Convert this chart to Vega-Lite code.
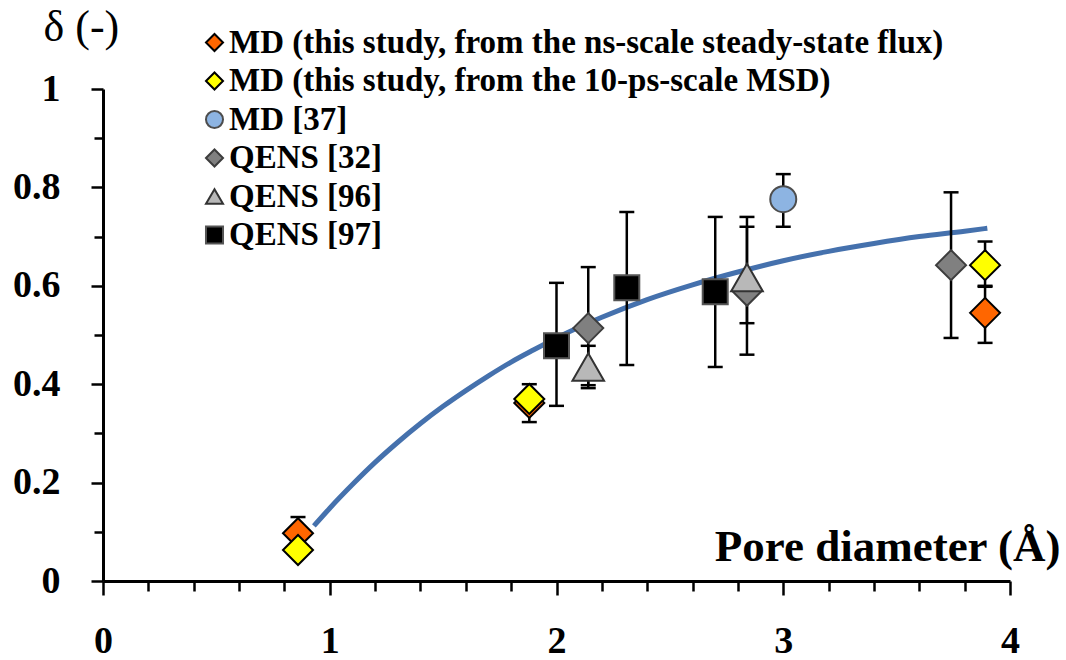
{
  "$schema": "https://vega.github.io/schema/vega-lite/v6.json",
  "autosize": "none",
  "width": 907,
  "height": 492,
  "padding": {"left": 103, "top": 89, "right": 56, "bottom": 79},
  "background": "white",
  "config": {"view": {"stroke": null}},
  "datasets": {
    "curve": [
      {"x": 0.93, "y": 0.112}, {"x": 1.0, "y": 0.148}, {"x": 1.1, "y": 0.196}, {"x": 1.2, "y": 0.241},
      {"x": 1.3, "y": 0.282}, {"x": 1.4, "y": 0.32}, {"x": 1.5, "y": 0.355}, {"x": 1.6, "y": 0.387},
      {"x": 1.7, "y": 0.417}, {"x": 1.8, "y": 0.445}, {"x": 1.9, "y": 0.47}, {"x": 2.0, "y": 0.494},
      {"x": 2.2, "y": 0.536}, {"x": 2.4, "y": 0.572}, {"x": 2.6, "y": 0.602}, {"x": 2.8, "y": 0.628},
      {"x": 3.0, "y": 0.651}, {"x": 3.2, "y": 0.67}, {"x": 3.4, "y": 0.686}, {"x": 3.6, "y": 0.7},
      {"x": 3.8, "y": 0.711}, {"x": 3.9, "y": 0.717}
    ],
    "err": [
      {"x": 0.86, "lo": 0.07, "hi": 0.13},
      {"x": 3.89, "lo": 0.484, "hi": 0.598},
      {"x": 1.88, "lo": 0.323, "hi": 0.4},
      {"x": 3.89, "lo": 0.6, "hi": 0.69},
      {"x": 3.0, "lo": 0.72, "hi": 0.827},
      {"x": 2.14, "lo": 0.398, "hi": 0.638},
      {"x": 2.84, "lo": 0.46, "hi": 0.74},
      {"x": 3.74, "lo": 0.494, "hi": 0.79},
      {"x": 2.14, "lo": 0.392, "hi": 0.478},
      {"x": 2.84, "lo": 0.524, "hi": 0.72},
      {"x": 2.0, "lo": 0.356, "hi": 0.606},
      {"x": 2.31, "lo": 0.439, "hi": 0.75},
      {"x": 2.7, "lo": 0.435, "hi": 0.74}
    ],
    "pts": [
      {"s": "MD (this study, from the ns-scale steady-state flux)", "x": 0.86, "y": 0.097},
      {"s": "MD (this study, from the ns-scale steady-state flux)", "x": 1.88, "y": 0.362},
      {"s": "MD (this study, from the ns-scale steady-state flux)", "x": 3.89, "y": 0.545},
      {"s": "MD (this study, from the 10-ps-scale MSD)", "x": 0.86, "y": 0.063},
      {"s": "MD (this study, from the 10-ps-scale MSD)", "x": 1.88, "y": 0.37},
      {"s": "MD (this study, from the 10-ps-scale MSD)", "x": 3.89, "y": 0.642},
      {"s": "MD [37]", "x": 3.0, "y": 0.776},
      {"s": "QENS [32]", "x": 2.14, "y": 0.514},
      {"s": "QENS [32]", "x": 2.84, "y": 0.59},
      {"s": "QENS [32]", "x": 3.74, "y": 0.642},
      {"s": "QENS [96]", "x": 2.14, "y": 0.435},
      {"s": "QENS [96]", "x": 2.84, "y": 0.617},
      {"s": "QENS [97]", "x": 2.0, "y": 0.478},
      {"s": "QENS [97]", "x": 2.31, "y": 0.596},
      {"s": "QENS [97]", "x": 2.7, "y": 0.588}
    ]
  },
  "layer": [
    {
      "data": {"name": "curve"},
      "mark": {"type": "line", "color": "#4571ad", "strokeWidth": 5, "interpolate": "monotone"},
      "encoding": {
        "x": {
          "field": "x", "type": "quantitative",
          "scale": {"domain": [0, 4], "nice": false, "zero": false},
          "axis": {
            "title": "Pore diameter (Å)",
            "titleFont": "Liberation Serif", "titleFontSize": 45, "titleFontWeight": "bold", "titleColor": "black",
            "titleX": 957, "titleY": -21, "titleAlign": "right", "titleBaseline": "alphabetic", "titleAngle": 0,
            "values": [0, 0.2, 0.4, 0.6, 0.8, 1, 1.2, 1.4, 1.6, 1.8, 2, 2.2, 2.4, 2.6, 2.8, 3, 3.2, 3.4, 3.6, 3.8, 4],
            "labelExpr": "abs(datum.value - round(datum.value)) < 0.01 ? format(datum.value, '~g') : ''",
            "labelFont": "Liberation Serif", "labelFontSize": 38, "labelFontWeight": "bold", "labelColor": "black",
            "labelPadding": 27, "labelFlush": false, "labelOverlap": false,
            "domainColor": "black", "domainWidth": 3,
            "tickColor": "black", "tickWidth": 2.5,
            "tickSize": {"condition": {"test": "abs(datum.value - round(datum.value)) < 0.01", "value": 14}, "value": 10},
            "grid": false
          }
        },
        "y": {
          "field": "y", "type": "quantitative",
          "scale": {"domain": [0, 1], "nice": false, "zero": false},
          "axis": {
            "title": "δ (-)",
            "titleFont": "Liberation Serif", "titleFontSize": 44, "titleFontWeight": "normal", "titleColor": "black",
            "titleX": -60, "titleY": -49, "titleAlign": "left", "titleBaseline": "alphabetic", "titleAngle": 0,
            "values": [0, 0.1, 0.2, 0.3, 0.4, 0.5, 0.6, 0.7, 0.8, 0.9, 1],
            "labelExpr": "round(datum.value * 10) % 2 == 0 ? format(datum.value, '~g') : ''",
            "labelFont": "Liberation Serif", "labelFontSize": 38, "labelFontWeight": "bold", "labelColor": "black",
            "labelPadding": 31, "labelFlush": false, "labelOverlap": false,
            "domainColor": "black", "domainWidth": 3,
            "tickColor": "black", "tickWidth": 2.5,
            "tickSize": {"condition": {"test": "round(datum.value * 10) % 2 == 0", "value": 12}, "value": 9},
            "grid": false
          }
        }
      }
    },
    {
      "data": {"name": "err"},
      "mark": {"type": "rule", "color": "black", "strokeWidth": 2.5},
      "encoding": {
        "x": {"field": "x", "type": "quantitative"},
        "y": {"field": "lo", "type": "quantitative"},
        "y2": {"field": "hi"}
      }
    },
    {
      "data": {"name": "err"},
      "mark": {"type": "tick", "color": "black", "orient": "horizontal", "size": 15, "thickness": 2.5, "opacity": 1},
      "encoding": {
        "x": {"field": "x", "type": "quantitative"},
        "y": {"field": "lo", "type": "quantitative"}
      }
    },
    {
      "data": {"name": "err"},
      "mark": {"type": "tick", "color": "black", "orient": "horizontal", "size": 15, "thickness": 2.5, "opacity": 1},
      "encoding": {
        "x": {"field": "x", "type": "quantitative"},
        "y": {"field": "hi", "type": "quantitative"}
      }
    },
    {
      "data": {"name": "pts"},
      "mark": {"type": "point", "filled": true, "opacity": 1, "strokeWidth": 2, "strokeOpacity": 1},
      "encoding": {
        "x": {"field": "x", "type": "quantitative"},
        "y": {"field": "y", "type": "quantitative"},
        "shape": {
          "field": "s", "type": "nominal",
          "scale": {
            "domain": ["MD (this study, from the ns-scale steady-state flux)", "MD (this study, from the 10-ps-scale MSD)", "MD [37]", "QENS [32]", "QENS [96]", "QENS [97]"],
            "range": ["diamond", "diamond", "circle", "diamond", "triangle-up", "square"]
          },
          "legend": {
            "title": null, "orient": "none", "legendX": 95, "legendY": -63, "padding": 0, "offset": 0,
            "labelFont": "Liberation Serif", "labelFontSize": 33, "labelFontWeight": "bold", "labelColor": "black",
            "labelLimit": 0, "labelOffset": -2, "rowPadding": 4.5, "symbolSize": 290, "symbolStrokeWidth": 2
          }
        },
        "fill": {
          "field": "s", "type": "nominal",
          "scale": {
            "domain": ["MD (this study, from the ns-scale steady-state flux)", "MD (this study, from the 10-ps-scale MSD)", "MD [37]", "QENS [32]", "QENS [96]", "QENS [97]"],
            "range": ["#ff6600", "#ffff00", "#8db4e2", "#808080", "#b8b8b8", "#000000"]
          },
          "legend": {
            "title": null, "orient": "none", "legendX": 95, "legendY": -63, "padding": 0, "offset": 0,
            "labelFont": "Liberation Serif", "labelFontSize": 33, "labelFontWeight": "bold", "labelColor": "black",
            "labelLimit": 0, "labelOffset": -2, "rowPadding": 4.5, "symbolSize": 290, "symbolStrokeWidth": 2
          }
        },
        "stroke": {
          "field": "s", "type": "nominal",
          "scale": {
            "domain": ["MD (this study, from the ns-scale steady-state flux)", "MD (this study, from the 10-ps-scale MSD)", "MD [37]", "QENS [32]", "QENS [96]", "QENS [97]"],
            "range": ["#000000", "#000000", "#4d4d4d", "#3d3d3d", "#333333", "#555555"]
          },
          "legend": {
            "title": null, "orient": "none", "legendX": 95, "legendY": -63, "padding": 0, "offset": 0,
            "labelFont": "Liberation Serif", "labelFontSize": 33, "labelFontWeight": "bold", "labelColor": "black",
            "labelLimit": 0, "labelOffset": -2, "rowPadding": 4.5, "symbolSize": 290, "symbolStrokeWidth": 2
          }
        },
        "size": {
          "condition": [
            {"test": "datum.s == 'MD [37]'", "value": 676},
            {"test": "datum.s == 'QENS [96]'", "value": 1000},
            {"test": "datum.s == 'QENS [97]'", "value": 625}
          ],
          "value": 900
        }
      }
    }
  ]
}
